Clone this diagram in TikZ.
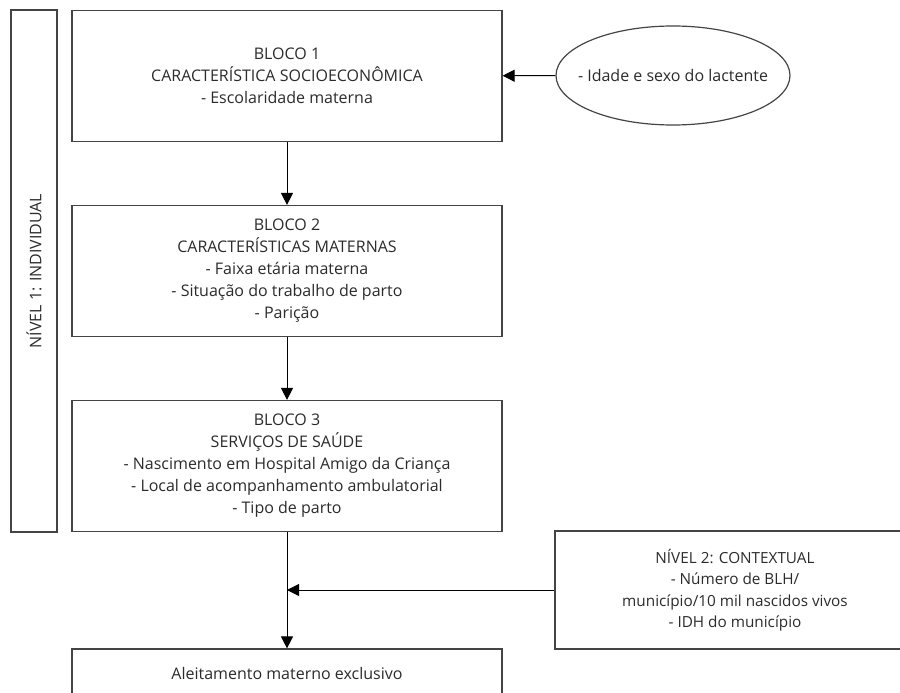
\documentclass[tikz,border=0pt]{standalone}
\usepackage{fontspec}
\setmainfont{Open Sans}
\usetikzlibrary{ % tikz packages
    shapes.geometric,positioning,
    arrows.meta
}
\definecolor{linha}{HTML}{444444}
\definecolor{texto}{HTML}{2B2B2B}
\tikzset{every node/.style={
    text=texto,
    font=\fontsize{16pt}{22pt}\selectfont
}}
\tikzset{caixa/.style={
    draw=linha, line width=1.2pt,
    align=center, inner sep=0pt
}}
\tikzset{bloco/.style={
    caixa,
    minimum width=430pt,
    minimum height=131pt
}}
\tikzset{>={Triangle[length=12pt,width=12pt]}}

\begin{document}
\begin{tikzpicture}[x=1pt,y=-1pt,node distance=195pt,on grid,
    seta/.style={->,draw=black,line width=1pt}]
            \useasboundingbox (0,0) rectangle (900,693);

            \node[bloco] (b1) at (287,76)
                {BLOCO 1\\CARACTERÍSTICA SOCIOECONÔMICA\\- Escolaridade materna};
            \node[bloco] (b2) [below=of b1]
                {BLOCO 2\\CARACTERÍSTICAS MATERNAS\\- Faixa etária materna\\- Situação do trabalho de parto\\- Parição};
            \node[bloco] (b3) [below=of b2]
                {BLOCO 3\\SERVIÇOS DE SAÚDE\\- Nascimento em Hospital Amigo da Criança\\- Local de acompanhamento ambulatorial\\- Tipo de parto};

            \node[caixa, rotate=90, minimum width=522pt, minimum height=46pt]
                (nivel1) at (34,271) {NÍVEL 1: INDIVIDUAL};

            \node[ellipse, draw=linha, line width=1.2pt,
                inner xsep=-16pt, inner ysep=0pt,
                minimum width=234pt, minimum height=99pt]
                (lactente) at (673,75.5) {- Idade e sexo do lactente};

            \node[caixa, minimum width=360pt, minimum height=118pt,
                font=\fontsize{15.3pt}{21.5pt}\selectfont]
                (nivel2) at (735,590)
                {NÍVEL 2: CONTEXTUAL\\- Número de BLH/\\município/10 mil nascidos vivos\\- IDH do município};

            \node[caixa, minimum width=430pt, minimum height=48pt]
                (ame) at (287,673) {Aleitamento materno exclusivo};

            \coordinate (juncao) at (b3.south |- nivel2.west);

            \path[seta]
                (lactente) edge (b1)
                (b1) edge (b2)
                (b2) edge (b3)
                (b3) edge (ame)
                (nivel2) edge (juncao);
        \end{tikzpicture}
\end{document}
